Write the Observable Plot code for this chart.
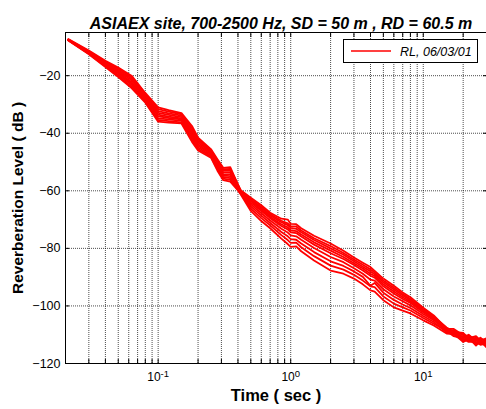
<!DOCTYPE html>
<html><head><meta charset="utf-8">
<script src="https://cdn.jsdelivr.net/npm/d3@7"></script>
<script src="https://cdn.jsdelivr.net/npm/@observablehq/plot@0.6"></script>
<style>
html,body{margin:0;padding:0;background:#fff;}
#chart{width:486px;height:409px;overflow:hidden;}
svg{display:block;}
</style></head><body><div id="chart"></div>
<script>
const times = [0.021, 0.03, 0.04, 0.05, 0.063, 0.08, 0.1, 0.12, 0.15, 0.18, 0.2, 0.25, 0.28, 0.31, 0.35, 0.42, 0.5, 0.6, 0.7, 0.85, 0.95, 1.0, 1.1, 1.2, 1.5, 2.0, 2.5, 3.0, 3.5, 4.0, 4.3, 5, 6, 7, 8, 10, 12, 15, 17, 20, 22, 25, 27, 30];
const run1 = [-7.4, -11.5, -15.1, -17.6, -20.5, -26.4, -31.6, -32.5, -33.4, -38.2, -42.0, -45.9, -49.5, -52.5, -52.4, -59.8, -62.4, -65.0, -67.6, -69.7, -70.0, -71.5, -71.6, -73.0, -75.6, -78.3, -80.8, -83.2, -85.0, -86.5, -87.8, -90.5, -93.0, -95.3, -97.0, -100.6, -103.3, -107.9, -108.0, -110.2, -110.4, -111.5, -111.4, -112.0];
const run2 = [-7.5, -11.8, -15.6, -18.5, -21.6, -27.3, -32.9, -33.6, -34.4, -39.6, -43.2, -46.6, -50.5, -53.6, -53.7, -60.0, -62.9, -65.6, -68.1, -70.4, -71.3, -72.3, -72.4, -73.8, -76.5, -79.2, -81.6, -83.9, -85.7, -87.3, -88.4, -91.2, -93.7, -95.9, -97.6, -101.0, -103.7, -107.5, -109.0, -109.4, -111.2, -110.5, -112.0, -111.2];
const run3 = [-7.3, -11.3, -14.8, -17.2, -20.0, -26.0, -31.0, -32.0, -33.0, -37.5, -41.5, -45.5, -49.0, -52.0, -51.8, -60.1, -63.2, -66.0, -68.6, -70.9, -71.9, -72.9, -73.2, -74.4, -77.1, -80.0, -82.2, -84.5, -86.4, -88.0, -89.0, -91.8, -94.3, -96.4, -98.0, -101.4, -103.9, -108.4, -108.6, -111.0, -110.0, -112.2, -111.0, -112.8];
const run4 = [-7.6, -12.1, -16.2, -19.2, -22.7, -28.1, -34.1, -34.7, -35.2, -40.9, -44.3, -47.4, -51.5, -54.7, -54.9, -60.2, -63.6, -66.5, -69.1, -71.6, -72.7, -73.7, -74.0, -75.2, -77.9, -80.8, -83.0, -85.2, -87.0, -88.8, -89.6, -92.5, -95.0, -97.0, -98.5, -101.8, -104.3, -108.0, -109.6, -109.8, -111.8, -111.0, -112.6, -111.6];
const run5 = [-7.4, -11.6, -15.4, -18.0, -21.1, -26.9, -32.3, -33.1, -33.9, -38.9, -42.6, -46.3, -50.0, -53.1, -53.0, -60.3, -64.1, -67.0, -69.5, -72.2, -73.4, -74.4, -74.7, -75.9, -78.7, -81.7, -83.7, -85.8, -87.7, -89.5, -90.2, -93.2, -95.7, -97.6, -99.0, -102.2, -104.6, -108.8, -108.4, -111.8, -110.8, -113.0, -111.8, -113.4];
const run6 = [-7.7, -12.4, -16.7, -20.1, -23.8, -29.0, -35.4, -35.8, -36.2, -42.3, -45.5, -48.1, -52.5, -55.8, -56.2, -60.5, -64.7, -67.8, -70.3, -73.2, -74.5, -75.5, -75.8, -77.0, -79.9, -83.0, -84.8, -86.9, -88.8, -90.9, -91.2, -94.2, -96.7, -98.4, -99.8, -102.8, -105.0, -108.3, -110.0, -110.6, -112.0, -111.8, -113.0, -112.3];
const run7 = [-7.5, -12.0, -15.9, -18.9, -22.2, -27.7, -33.5, -34.2, -34.8, -40.2, -43.8, -47.0, -51.0, -54.2, -54.3, -60.8, -65.4, -68.6, -71.2, -74.3, -75.8, -76.8, -77.0, -78.3, -81.3, -84.5, -86.1, -88.0, -89.9, -93.0, -92.0, -95.4, -97.9, -99.5, -100.7, -103.5, -105.6, -109.2, -109.2, -112.4, -111.0, -113.8, -112.2, -114.4];
const run8 = [-7.8, -12.6, -17.0, -20.5, -24.3, -29.4, -36.0, -36.3, -36.6, -43.0, -46.0, -48.5, -53.0, -56.3, -56.8, -61.0, -66.2, -69.5, -72.0, -75.4, -77.1, -78.1, -78.0, -79.6, -82.7, -86.0, -87.4, -89.2, -91.2, -93.2, -93.5, -96.7, -99.2, -100.5, -101.6, -104.2, -106.2, -108.7, -110.5, -111.4, -112.5, -112.5, -113.5, -113.0];
const run9 = [-7.7, -12.3, -16.5, -19.7, -23.2, -28.6, -34.8, -35.2, -35.7, -41.6, -44.9, -47.8, -52.0, -55.2, -55.6, -61.3, -67.0, -70.5, -73.0, -76.6, -78.5, -79.5, -79.3, -81.0, -84.2, -87.7, -88.8, -90.5, -92.5, -94.6, -95.0, -98.0, -100.5, -101.6, -102.6, -105.0, -106.8, -109.6, -109.8, -112.5, -111.6, -113.3, -112.8, -113.8];
const runs = [run1, run2, run3, run4, run5, run6, run7, run8, run9];

const gridTimes = [0.03,0.04,0.05,0.06,0.07,0.08,0.09,0.1,0.2,0.3,0.4,0.5,0.6,0.7,0.8,0.9,1,2,3,4,5,6,7,8,9,10,20];
const majorTimes = [0.1, 1, 10];
const majorExponents = ["-1", "0", "1"];
const yTicks = [-120, -100, -80, -60, -40, -20];
const yGrid = [-100, -80, -60, -40, -20];
const titleText = "ASIAEX site, 700-2500 Hz, SD = 50 m , RD = 60.5 m";
const xLabel = "Time ( sec )";
const yLabel = "Reverberation Level ( dB )";
const legendLabel = "RL, 06/03/01";

const font = "'Liberation Sans', Arial, Helvetica, sans-serif";
const data = runs.flatMap((r, i) => r.map((v, j) => ({run: i, t: times[j], db: v})));
const gridStyle = {stroke: "#000", strokeOpacity: 0.7, strokeDasharray: "1,1"};

const plot = Plot.plot({
  width: 486, height: 409,
  marginLeft: 65, marginRight: 0, marginTop: 32, marginBottom: 46,
  style: {fontFamily: font, fontSize: "12px", color: "#000", background: "#fff", overflow: "visible"},
  x: {type: "log", domain: [0.02, 30]},
  y: {domain: [-120, -5]},
  marks: [
    Plot.gridX(gridTimes, gridStyle),
    Plot.gridY(yGrid, gridStyle),
    Plot.line(data, {x: "t", y: "db", z: "run", stroke: "#ff0000", strokeWidth: 1.8}),
    Plot.frame({stroke: "#000", strokeWidth: 1}),
    Plot.axisX(gridTimes, {anchor: "bottom", tickSize: -4, tickFormat: () => "", label: null}),
    Plot.axisX(gridTimes, {anchor: "top", tickSize: -4, tickFormat: () => "", label: null}),
    Plot.axisX(majorTimes, {anchor: "bottom", tickSize: 0, tickPadding: 9, fontSize: 12,
      tickFormat: d => "10^" + majorExponents[majorTimes.indexOf(d)], label: null}),
    Plot.axisY(yTicks, {anchor: "left", tickSize: 0, tickPadding: 5, fontSize: 12.5, label: null}),
    Plot.axisY(yTicks, {anchor: "left", tickSize: -4, tickFormat: () => "", label: null}),
    Plot.axisY(yTicks, {anchor: "right", tickSize: -4, tickFormat: () => "", label: null}),
    Plot.text([titleText], {frameAnchor: "top", dx: 5, dy: -15, fontWeight: "bold", fontStyle: "italic", fontSize: 16}),
    Plot.text([xLabel], {frameAnchor: "bottom", dy: 37, fontWeight: "bold", fontSize: 16.5}),
    Plot.text([yLabel], {frameAnchor: "left", textAnchor: "middle", dx: -47, rotate: -90, fontWeight: "bold", fontSize: 15.5})
  ]
});

const svg = d3.select(plot);
// superscript exponents on the log tick labels
svg.selectAll("text").each(function() {
  const s = this.textContent;
  if (/^10\^/.test(s)) {
    const exp = s.slice(3);
    const t = d3.select(this);
    t.text(null);
    t.append("tspan").text("10");
    t.append("tspan").attr("dy", "-0.45em").attr("font-size", "9.5px").text(exp);
  }
});
// legend box
const lg = svg.append("g").attr("font-family", font);
lg.append("rect").attr("x", 343.5).attr("y", 39.5).attr("width", 134).attr("height", 23)
  .attr("fill", "#fff").attr("stroke", "#000");
lg.append("line").attr("x1", 351).attr("x2", 391).attr("y1", 51).attr("y2", 51)
  .attr("stroke", "#ff0000").attr("stroke-width", 1.6);
lg.append("text").attr("x", 400).attr("y", 55.5).attr("font-size", 12.5).attr("font-style", "italic")
  .attr("text-anchor", "start").text(legendLabel);

document.getElementById("chart").appendChild(plot);
</script></body></html>
